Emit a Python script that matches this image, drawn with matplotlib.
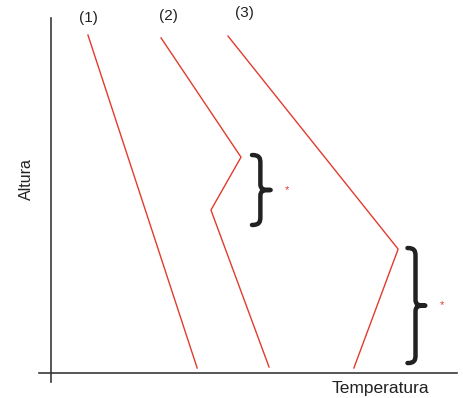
import matplotlib
matplotlib.use("Agg")
import matplotlib.pyplot as plt
from matplotlib.path import Path
from matplotlib.patches import PathPatch

# --- dados (unidades arbitrarias: 0-100) ---
curva1_temp = [9.1, 36.0]
curva1_alt = [95.2, 1.4]
curva2_temp = [27.1, 46.8, 39.4, 53.7]
curva2_alt = [94.4, 60.8, 45.9, 1.7]
curva3_temp = [43.6, 85.5, 74.6]
curva3_alt = [94.9, 34.9, 1.4]

rotulos = ["(1)", "(2)", "(3)"]
rotulos_x = [9.1, 29.0, 47.7]
rotulos_y = [100.0, 100.6, 101.4]

# chaves: x esquerdo, largura, y inferior, y superior
chaves_x = [49.5, 87.8]
chaves_larg = [4.6, 4.4]
chaves_y0 = [41.7, 2.8]
chaves_y1 = [61.4, 35.2]
asterisco_x = [58.1, 96.3]

VERMELHO = "#e23b2e"
EIXO = "#3a3a3a"


def chave(ax, x0, w, y0, y1, gancho=2.2):
    ym = (y0 + y1) / 2
    xc = x0 + w * 0.45
    verts = [
        (x0, y1), (x0 + w * 0.4, y1), (xc, y1 - gancho * 0.4), (xc, y1 - gancho),
        (xc, ym + gancho * 0.8),
        (xc, ym + 0.2), (x0 + w * 0.6, ym), (x0 + w, ym),
        (x0 + w * 0.6, ym), (xc, ym - 0.2), (xc, ym - gancho * 0.8),
        (xc, y0 + gancho),
        (xc, y0 + gancho * 0.4), (x0 + w * 0.4, y0), (x0, y0),
    ]
    codes = [Path.MOVETO, Path.CURVE4, Path.CURVE4, Path.CURVE4,
             Path.LINETO,
             Path.CURVE4, Path.CURVE4, Path.CURVE4,
             Path.CURVE4, Path.CURVE4, Path.CURVE4,
             Path.LINETO,
             Path.CURVE4, Path.CURVE4, Path.CURVE4]
    ax.add_patch(PathPatch(Path(verts, codes), fill=False, edgecolor="#222222",
                           lw=3.2, capstyle="round", joinstyle="round", clip_on=False))


plt.rcParams['font.family'] = ['Liberation Sans', 'DejaVu Sans']

fig = plt.figure(figsize=(4.63, 3.98), dpi=100)
ax = fig.add_axes([51 / 463, 25 / 398, 406 / 463, 355 / 398])
ax.set_xlim(0, 100)
ax.set_ylim(0, 100)
for s in ["top", "right"]:
    ax.spines[s].set_visible(False)
for s in ["left", "bottom"]:
    ax.spines[s].set_color(EIXO)
    ax.spines[s].set_linewidth(1.2)
ax.set_xticks([])
ax.set_yticks([])

# pequenas extensoes dos eixos alem da origem
ax.plot([-3.0, 0], [0, 0], color=EIXO, lw=1.2, clip_on=False)
ax.plot([0, 0], [-2.6, 0], color=EIXO, lw=1.2, clip_on=False)

for t, a in [(curva1_temp, curva1_alt), (curva2_temp, curva2_alt), (curva3_temp, curva3_alt)]:
    ax.plot(t, a, color=VERMELHO, lw=1.0, clip_on=False)

for r, x, y in zip(rotulos, rotulos_x, rotulos_y):
    ax.text(x, y, r, ha="center", va="center", fontsize=11, color="#222222", clip_on=False)

for x0, w, y0, y1, xa in zip(chaves_x, chaves_larg, chaves_y0, chaves_y1, asterisco_x):
    chave(ax, x0, w, y0, y1)
    ax.text(xa, (y0 + y1) / 2, "*", color=VERMELHO, fontsize=8, ha="center", va="center")

ax.text(81.2, -5.6, "Temperatura", ha="center", va="baseline", fontsize=12.5,
        color="#222222", clip_on=False)
ax.text(-6.0, 54.5, "Altura", ha="center", va="center", rotation=90, fontsize=11.5,
        color="#222222", clip_on=False)

fig.savefig("out.png", dpi=100)
